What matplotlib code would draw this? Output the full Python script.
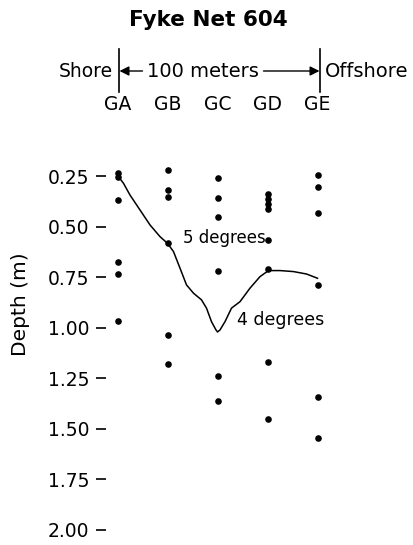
import matplotlib
matplotlib.use("Agg")
import matplotlib.pyplot as plt
from matplotlib.transforms import blended_transform_factory

# station columns and depths (m) of the sample points
stations = ["GA", "GB", "GC", "GD", "GE"]
depth_ga = [0.235, 0.255, 0.366, 0.672, 0.734, 0.965]
depth_gb = [0.218, 0.317, 0.35, 0.581, 1.035, 1.18]
depth_gc = [0.259, 0.358, 0.449, 0.718, 1.24, 1.36]
depth_gd = [0.335, 0.36, 0.385, 0.41, 0.564, 0.71, 1.17, 1.45]
depth_ge = [0.243, 0.30, 0.429, 0.789, 1.343, 1.546]

# thermocline curve (x in station units)
curve_x = [0.0, 0.12, 0.25, 0.45, 0.65, 0.85, 1.0, 1.12, 1.25, 1.38, 1.52, 1.68,
           1.78, 1.88, 1.97, 2.0, 2.05, 2.15, 2.28, 2.45, 2.65, 2.85, 3.02,
           3.25, 3.52, 3.78, 4.0]
curve_depth = [0.245, 0.284, 0.342, 0.416, 0.49, 0.548, 0.581, 0.622, 0.704,
               0.787, 0.828, 0.861, 0.902, 0.969, 1.01, 1.02, 1.01, 0.969,
               0.902, 0.87, 0.803, 0.746, 0.716, 0.716, 0.721, 0.733, 0.754]

depth_ticks = [0.25, 0.50, 0.75, 1.00, 1.25, 1.50, 1.75, 2.00]

fig = plt.figure(figsize=(4.13, 5.45), dpi=100)
ax = fig.add_axes([106 / 413, 5 / 545, 239 / 413, 390 / 545])

all_depths = [depth_ga, depth_gb, depth_gc, depth_gd, depth_ge]
for i, depths in enumerate(all_depths):
    ax.scatter([i] * len(depths), depths, s=14, color="black", zorder=3)

ax.plot(curve_x, curve_depth, color="black", linewidth=1.1)

ax.text(1.31, 0.555, "5 degrees", fontsize=12, ha="left", va="center")
ax.text(2.39, 0.962, "4 degrees", fontsize=12.5, ha="left", va="center")

ax.set_xlim(-0.23, 4.55)
ax.set_ylim(2.05, 0.119)
ax.set_xticks([])
ax.set_yticks(depth_ticks)
ax.set_yticklabels(["%.2f" % t for t in depth_ticks])
ax.tick_params(axis="y", length=7, width=1.2, pad=5, labelsize=13.5)
for s in ax.spines.values():
    s.set_visible(False)

fig.text(21 / 413, 1 - 304 / 545, "Depth (m)", rotation=90, fontsize=14.5,
         ha="center", va="center")

# header: title, shore/offshore scale and station names
fig.text(208 / 413, 1 - 20 / 545, "Fyke Net 604", fontsize=15.5, fontweight="bold",
         ha="center", va="center")

tr = blended_transform_factory(ax.transData, fig.transFigure)
y_arrow = 1 - 71 / 545
for xb in [0.03, 4.05]:
    ax.plot([xb, xb], [1 - 49 / 545, 1 - 92 / 545], color="black", linewidth=1.2,
            transform=tr, clip_on=False)
ax.annotate("", xy=(0.04, y_arrow), xytext=(0.5, y_arrow), xycoords=tr, textcoords=tr,
            arrowprops=dict(arrowstyle="-|>", color="black", lw=1, mutation_scale=14,
                            shrinkA=0, shrinkB=0))
ax.annotate("", xy=(4.04, y_arrow), xytext=(2.92, y_arrow), xycoords=tr, textcoords=tr,
            arrowprops=dict(arrowstyle="-|>", color="black", lw=1, mutation_scale=14,
                            shrinkA=0, shrinkB=0))
ax.text(1.71, y_arrow, "100 meters", fontsize=14, ha="center", va="center", transform=tr,
        bbox=dict(facecolor="white", edgecolor="none", pad=0.5))
ax.text(-0.09, y_arrow, "Shore", fontsize=13.5, ha="right", va="center", transform=tr)
ax.text(4.15, y_arrow, "Offshore", fontsize=14, ha="left", va="center", transform=tr)
for i, name in enumerate(stations):
    ax.text(i, 1 - 105 / 545, name, fontsize=13.5, ha="center", va="center", transform=tr)

fig.savefig("out.png", dpi=100)
